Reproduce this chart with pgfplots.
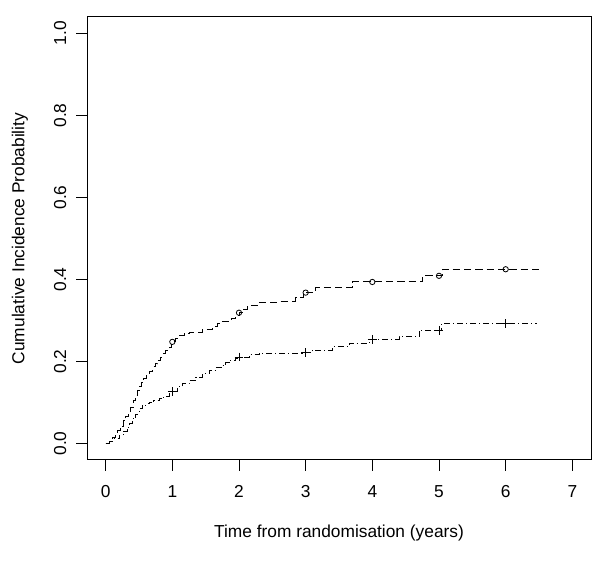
\documentclass[border=0pt]{standalone}
\usepackage{fontspec}
\setmainfont{Liberation Sans}
\usepackage{pgfplots}
\pgfplotsset{compat=1.18}

% cumulative incidence, group 1 (dashed) and group 2 (dot-dash)
\pgfplotstableread{
t p
0 0
0.05 0.006
0.1 0.014
0.146 0.024
0.18 0.032
0.22 0.042
0.27 0.056
0.3 0.066
0.34 0.078
0.37 0.089
0.41 0.105
0.44 0.118
0.47 0.13
0.5 0.139
0.54 0.15
0.57 0.158
0.61 0.167
0.65 0.176
0.7 0.187
0.74 0.195
0.78 0.203
0.82 0.211
0.86 0.219
0.9 0.226
0.95 0.235
0.98 0.242
1.0 0.248
1.05 0.256
1.1 0.264
1.18 0.268
1.25 0.272
1.45 0.278
1.6 0.286
1.68 0.292
1.73 0.297
1.88 0.305
1.95 0.313
2.0 0.319
2.06 0.328
2.13 0.337
2.28 0.345
2.6 0.347
2.85 0.355
2.97 0.368
3.15 0.380
3.7 0.394
4.75 0.409
5.05 0.425
6.5 0.425
}\upperdata
\pgfplotstableread{
t p
0 0
0.06 0.006
0.12 0.012
0.2 0.02
0.26 0.03
0.32 0.04
0.36 0.05
0.4 0.06
0.45 0.072
0.5 0.085
0.55 0.092
0.6 0.097
0.65 0.101
0.72 0.105
0.8 0.11
0.87 0.115
0.95 0.121
1.0 0.127
1.07 0.138
1.15 0.146
1.25 0.154
1.35 0.162
1.45 0.17
1.55 0.178
1.65 0.185
1.73 0.19
1.8 0.197
1.85 0.203
1.95 0.208
2.0 0.211
2.15 0.217
2.3 0.22
2.95 0.222
3.1 0.228
3.4 0.236
3.65 0.244
3.95 0.254
4.4 0.26
4.7 0.276
5.04 0.293
6.47 0.293
}\lowerdata
\pgfplotstableread{
t p
1 0.248
2 0.319
3 0.368
4 0.394
5 0.409
6 0.425
}\uppermarks
\pgfplotstableread{
t p
1 0.127
2 0.211
3 0.222
4 0.254
5 0.276
6 0.293
}\lowermarks

\begin{document}
\begin{tikzpicture}
\useasboundingbox (0,0) rectangle (450pt,424.5pt);
\begin{axis}[
  at={(65.25pt,79.5pt)}, anchor=south west,
  scale only axis, width=378pt, height=332.25pt,
  xmin=-0.28, xmax=7.28, ymin=-0.04, ymax=1.04,
  xtick={0,1,...,7},
  ytick={0,0.2,0.4,0.6,0.8,1.0},
  yticklabels={0.0,0.2,0.4,0.6,0.8,1.0},
  tick pos=left, tick align=outside,
  major tick length=8.25pt,
  every tick/.style={black, line width=0.75pt},
  axis line style={line width=0.75pt},
  font=\fontsize{13}{15}\selectfont,
  /pgf/number format/assume math mode=true,
  xticklabel style={anchor=north},
  yticklabel style={rotate=90, anchor=south},
  xticklabel shift=7.5pt,
  yticklabel shift=3.75pt,
  xlabel={Time from randomisation (years)},
  ylabel={Cumulative Incidence Probability},
  every axis x label/.style={at={(axis description cs:0.5,-0.1648)}, anchor=center},
  every axis y label/.style={at={(axis description cs:-0.1329,0.5)}, rotate=90, anchor=center},
  clip=false,
]
\addplot[const plot, black, line width=0.75pt, dash pattern=on 5.5pt off 3pt] table[x=t,y=p] {\upperdata};
\addplot[const plot, black, line width=0.75pt, dash pattern=on 0.75pt off 2.25pt on 4.5pt off 2.25pt] table[x=t,y=p] {\lowerdata};
\addplot[only marks, mark=o, mark size=2pt, black, line width=0.6pt] table[x=t,y=p] {\uppermarks};
\addplot[only marks, mark=+, mark size=3.3pt, black, line width=0.6pt] table[x=t,y=p] {\lowermarks};
\end{axis}
\end{tikzpicture}
\end{document}
